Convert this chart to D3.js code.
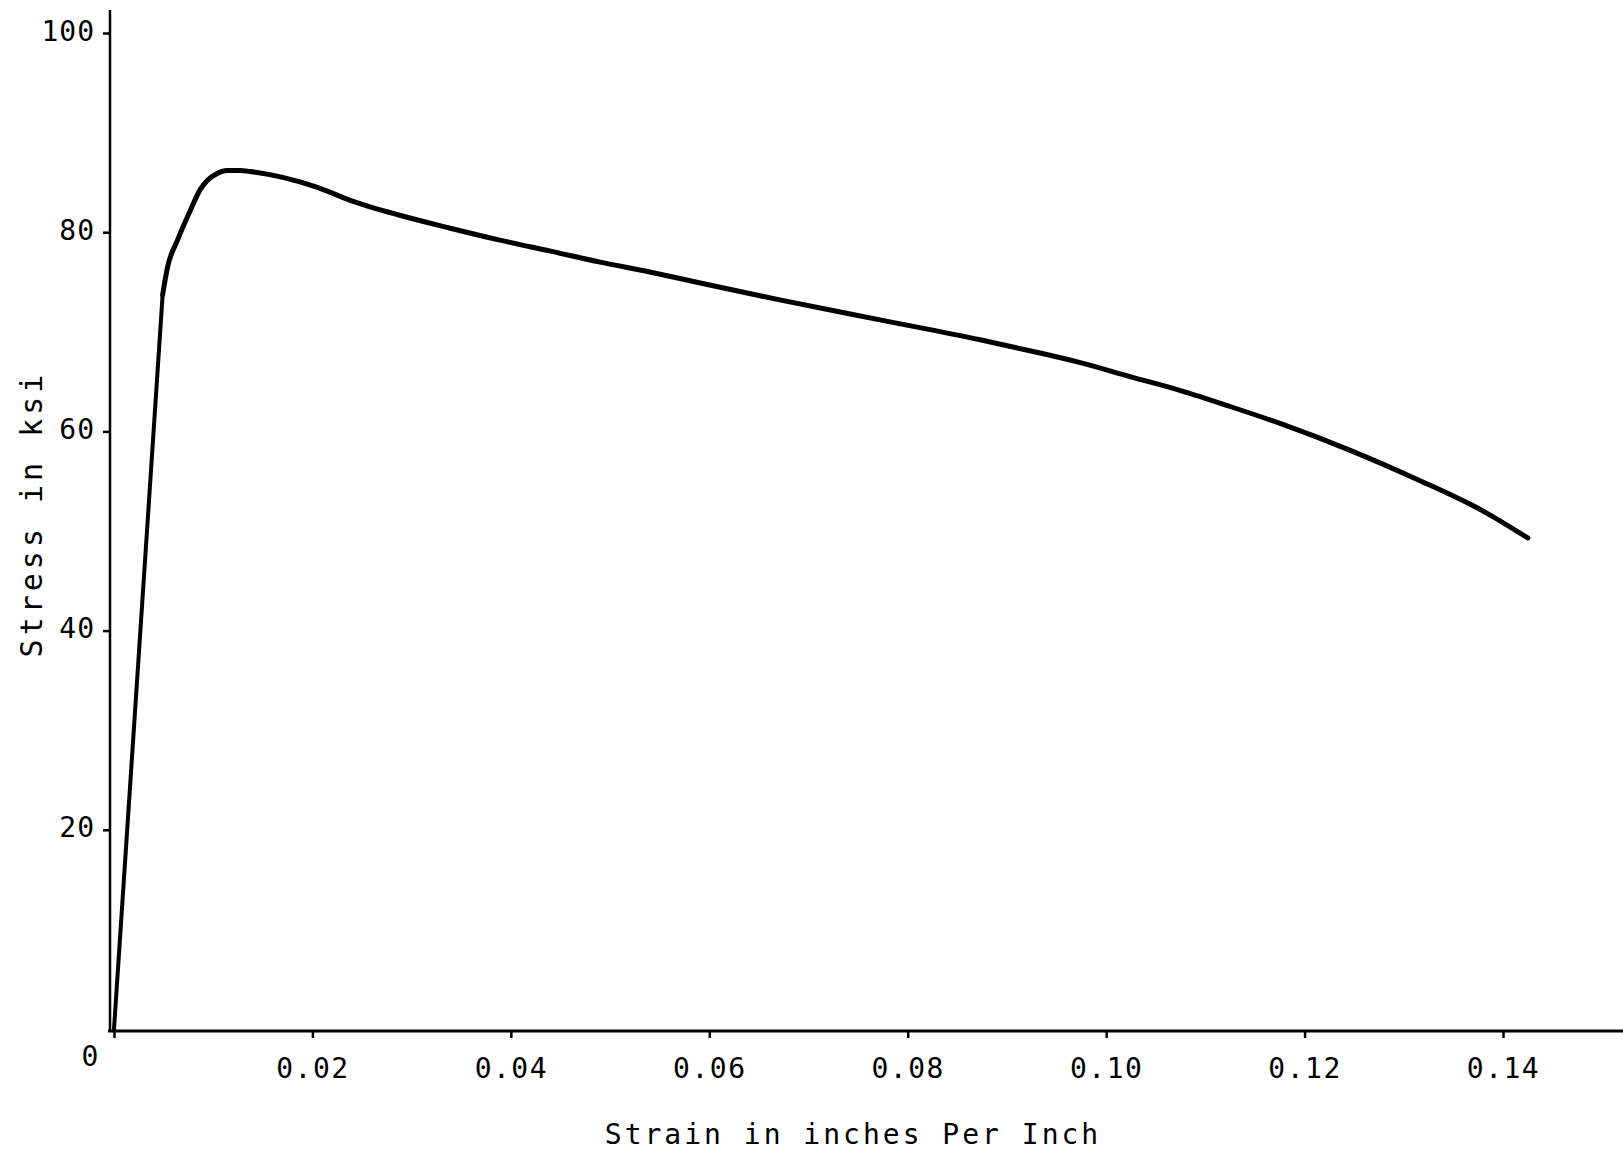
<!DOCTYPE html>
<html>
<head>
<meta charset="utf-8">
<script src="https://cdn.jsdelivr.net/npm/d3@7"></script>
<style>
  html, body { margin: 0; padding: 0; background: #fff; }
  svg { display: block; }
  text { font-family: "DejaVu Sans Mono", "Liberation Mono", monospace; fill: #000; }
</style>
</head>
<body>
<svg id="chart" width="1623" height="1155"></svg>
<script>
// Engineering strain (in/in) and stress (ksi) along the test curve.
// The first two points are the straight elastic branch; the rest is the plastic branch.
const strain = [0, 0.0049, 0.0054, 0.0064, 0.0077, 0.0087, 0.0094, 0.0104, 0.0114, 0.0127,
  0.0137, 0.0170, 0.0205, 0.0238, 0.0288, 0.0339, 0.0389, 0.0440, 0.0490, 0.0540,
  0.0591, 0.0671, 0.0772, 0.0873, 0.0923, 0.0974, 0.1024, 0.1075, 0.1125, 0.1178,
  0.1246, 0.1313, 0.1380, 0.1425];
const stress = [0, 73.7, 76.5, 79.2, 82.2, 84.3, 85.2, 85.9, 86.2, 86.2,
  86.1, 85.5, 84.5, 83.2, 81.7, 80.4, 79.2, 78.1, 77.0, 76.0,
  74.9, 73.2, 71.2, 69.2, 68.1, 66.9, 65.5, 64.1, 62.5, 60.7,
  58.1, 55.2, 52.0, 49.3];
const elasticEnd = 1; // index where the elastic branch meets the plastic branch

const xTicks = [0.02, 0.04, 0.06, 0.08, 0.10, 0.12, 0.14];
const xTickLabels = ["0.02", "0.04", "0.06", "0.08", "0.10", "0.12", "0.14"];
const yTicks = [20, 40, 60, 80, 100];
const yTickLabels = ["20", "40", "60", "80", "100"];
const originLabel = "0";
const xTitle = "Strain in inches Per Inch";
const yTitle = "Stress in ksi";

const svg = d3.select("#chart");

const x = d3.scaleLinear().domain([0, 0.14]).range([114, 1503]);
const y = d3.scaleLinear().domain([0, 100]).range([1029, 33]);

const axisX = 110;   // position of the vertical axis line
const axisY = 1031;  // position of the horizontal axis line

// Axis lines
svg.append("line")
  .attr("x1", 108).attr("x2", 1623)
  .attr("y1", axisY).attr("y2", axisY)
  .attr("stroke", "#000").attr("stroke-width", 3);
svg.append("line")
  .attr("x1", axisX).attr("x2", axisX)
  .attr("y1", 10).attr("y2", axisY)
  .attr("stroke", "#000").attr("stroke-width", 2.5);

// Horizontal axis ticks and labels
const gx = svg.append("g")
  .attr("transform", `translate(0,${axisY})`)
  .call(d3.axisBottom(x)
    .tickValues([0].concat(xTicks))
    .tickSize(7)
    .tickPadding(20)
    .tickFormat((d, i) => i === 0 ? "" : xTickLabels[i - 1]));
gx.select(".domain").remove();
gx.selectAll(".tick line").attr("stroke", "#000").attr("stroke-width", 2.5);
gx.selectAll(".tick text")
  .attr("font-size", 28)
  .attr("letter-spacing", 1.5)
  .attr("font-family", "DejaVu Sans Mono, monospace")
  .attr("fill", "#000");

// Vertical axis ticks and labels
const gy = svg.append("g")
  .attr("transform", `translate(${axisX},0)`)
  .call(d3.axisLeft(y)
    .tickValues(yTicks)
    .tickSize(7)
    .tickPadding(8)
    .tickFormat((d, i) => yTickLabels[i]));
gy.select(".domain").remove();
gy.selectAll(".tick line").attr("stroke", "#000").attr("stroke-width", 2.5);
gy.selectAll(".tick text")
  .attr("font-size", 28)
  .attr("letter-spacing", 1)
  .attr("dy", "0.25em")
  .attr("font-family", "DejaVu Sans Mono, monospace")
  .attr("fill", "#000");

// Shared origin label
svg.append("text")
  .attr("x", 90).attr("y", y(0) + 37)
  .attr("text-anchor", "middle")
  .attr("font-size", 28)
  .text(originLabel);

// Stress-strain curve: straight elastic branch, then smooth plastic branch
const pts = strain.map((s, i) => [s, stress[i]]);
const lineGen = curve => d3.line()
  .x(d => x(d[0]))
  .y(d => y(d[1]))
  .curve(curve);

svg.append("path")
  .datum(pts.slice(0, elasticEnd + 1))
  .attr("fill", "none")
  .attr("stroke", "#000")
  .attr("stroke-width", 4)
  .attr("stroke-linecap", "round")
  .attr("d", lineGen(d3.curveLinear));

svg.append("path")
  .datum(pts.slice(elasticEnd))
  .attr("fill", "none")
  .attr("stroke", "#000")
  .attr("stroke-width", 5)
  .attr("stroke-linejoin", "round")
  .attr("stroke-linecap", "round")
  .attr("d", lineGen(d3.curveMonotoneX));

// Axis titles
svg.append("text")
  .attr("x", 853).attr("y", 1144)
  .attr("text-anchor", "middle")
  .attr("font-size", 28)
  .attr("letter-spacing", 3)
  .text(xTitle);

svg.append("text")
  .attr("transform", "translate(42,514) rotate(-90)")
  .attr("text-anchor", "middle")
  .attr("font-size", 30)
  .attr("letter-spacing", 4)
  .text(yTitle);
</script>
</body>
</html>
